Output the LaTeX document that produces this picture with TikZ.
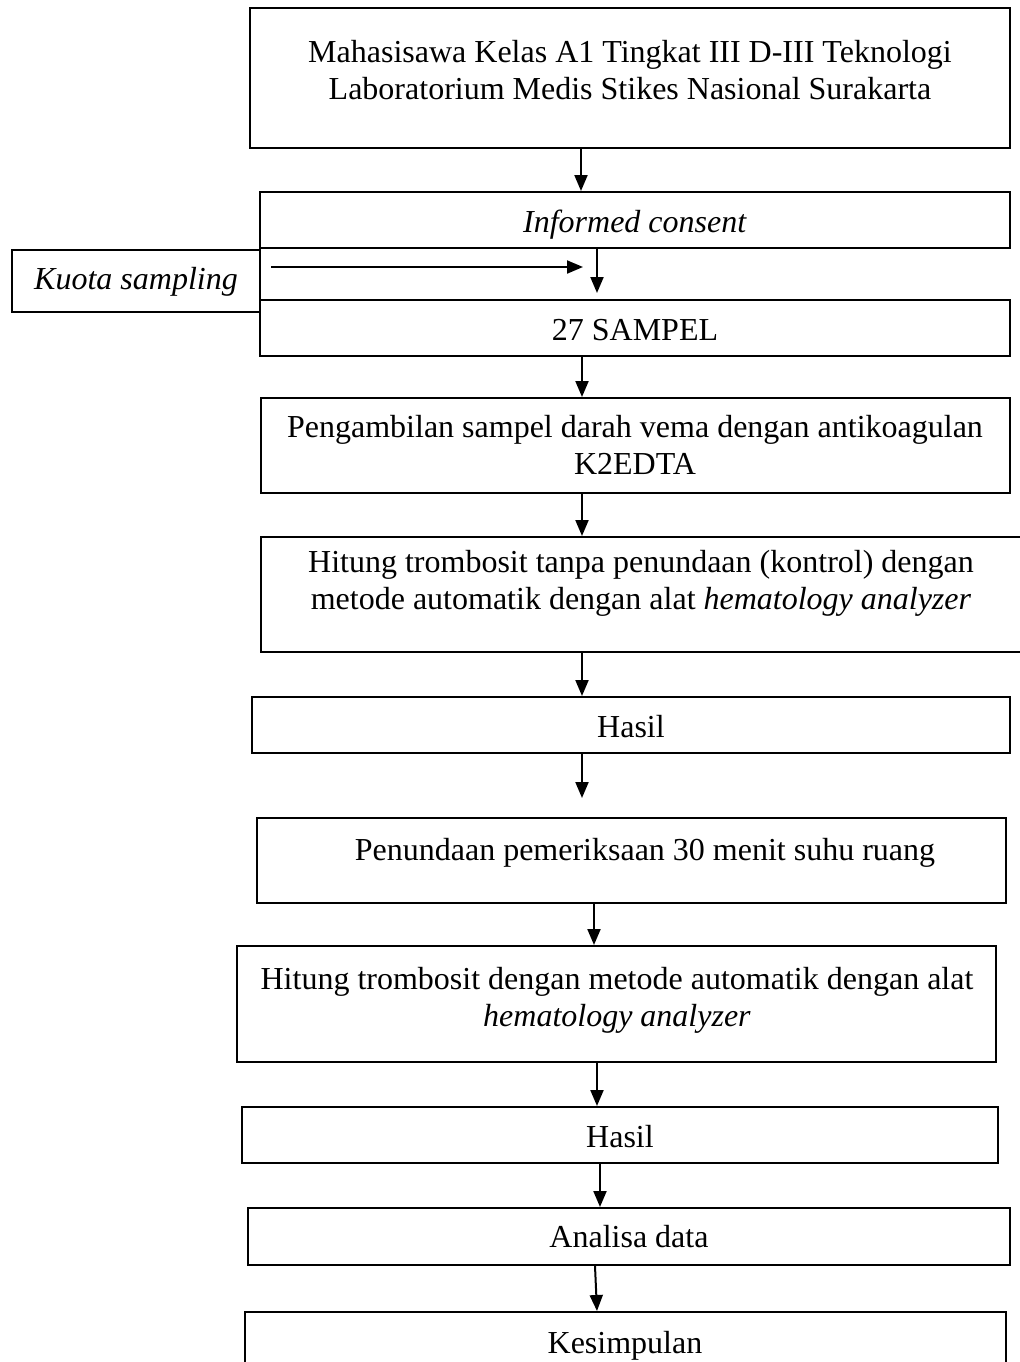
\documentclass[tikz,border=0pt]{standalone}
\usepackage{fontspec}
\setmainfont{Liberation Serif}
\usetikzlibrary{arrows.meta}

\begin{document}
\begin{tikzpicture}
[x=0.5pt,y=-0.5pt,
  boxdecorate/.style={shape=rectangle,draw,line width=1pt,inner sep=0pt},%
  textdecorate/.style={align=center,inner sep=0pt,font=\fontsize{16}{18.5}\selectfont},%
  arrowdecorate/.style={-{Triangle[length=8pt,width=6.5pt]},line width=1pt}]
\useasboundingbox (0,0) rectangle (1019,1362);
%% boxes
\foreach \boxname/\xa/\ya/\xb/\yb in {mhs/250/8/1010/148, ic/260/192/1010/248,
  kuota/12/250/260/312, sampel/260/300/1010/356, ambil/261/398/1010/493,
  hitungA/261/537/1030/652, hasilA/252/697/1010/753, tunda/257/818/1006/903,
  hitungB/237/946/996/1062, hasilB/242/1107/998/1163, analisa/248/1208/1010/1265,
  simpul/245/1312/1006/1385}
{
  \node (\boxname) at ({(\xa+\xb)/2},{(\ya+\yb)/2}) [boxdecorate,
    minimum width={(\xb-\xa)*0.5pt}, minimum height={(\yb-\ya)*0.5pt}] {};
}
%% texts
\node (mhsText) at (630,70) [textdecorate]
  {Mahasisawa Kelas A1 Tingkat III D-III Teknologi\\Laboratorium Medis Stikes Nasional Surakarta};
\node (icText) at (635,232) [textdecorate,anchor=base] {\textit{Informed consent}};
\node (kuotaText) at (136,289) [textdecorate,anchor=base] {\textit{Kuota sampling}};
\node (sampelText) at (635,340) [textdecorate,anchor=base] {27 SAMPEL};
\node (ambilText) at (635,445) [textdecorate]
  {Pengambilan sampel darah vema dengan antikoagulan\\K2EDTA};
\node (hitungAText) at (641,583) [textdecorate]
  {Hitung trombosit tanpa penundaan (kontrol) dengan\\metode automatik dengan alat \textit{hematology analyzer}};
\node (hasilAText) at (631,737) [textdecorate,anchor=base] {Hasil};
\node (tundaText) at (645,860) [textdecorate,anchor=base] {Penundaan pemeriksaan 30 menit suhu ruang};
\node (hitungBText) at (617,1000) [textdecorate]
  {Hitung trombosit dengan metode automatik dengan alat\\\textit{hematology analyzer}};
\node (hasilBText) at (620,1147) [textdecorate,anchor=base] {Hasil};
\node (analisaText) at (629,1247) [textdecorate,anchor=base] {Analisa data};
\node (simpulText) at (625,1353) [textdecorate,anchor=base] {Kesimpulan};
%% arrows
\coordinate (kuotaStart) at (271,267);
\coordinate (kuotaEnd) at (583,267);
\draw[arrowdecorate] (kuotaStart) -- (kuotaEnd);
\draw[arrowdecorate,shorten >=3pt] (ic.south -| 597,0) -- (sampel.north -| 597,0);
\draw[arrowdecorate,shorten >=9.5pt] (hasilA.south -| 582,0) -- (tunda.north -| 582,0);
\draw[arrowdecorate] (analisa.south -| 595,0) -- (simpul.north -| 597,0);
\foreach \startnode/\endnode/\x in {mhs/ic/581, sampel/ambil/582, ambil/hitungA/582,
  hitungA/hasilA/582, tunda/hitungB/594, hitungB/hasilB/597, hasilB/analisa/600}
{
  \draw[arrowdecorate] (\startnode.south -| \x,0) -- (\endnode.north -| \x,0);
}
\end{tikzpicture}
\end{document}
